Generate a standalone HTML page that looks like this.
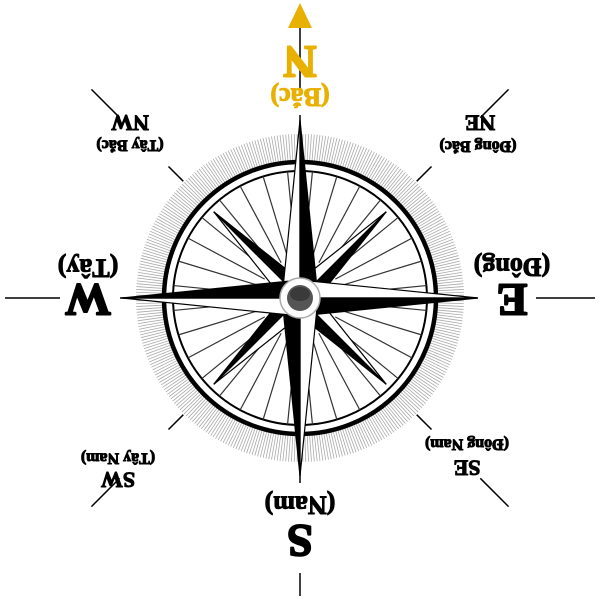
<!DOCTYPE html>
<html><head><meta charset="utf-8"><style>
html,body{margin:0;padding:0;background:#fff;}
svg{display:block}
text{font-family:"Liberation Serif",serif;font-weight:bold;}
</style></head><body>
<svg id="c" width="600" height="600" viewBox="0 0 600 600">
<g id="ticks"></g>
<circle cx="300" cy="298" r="136" fill="none" stroke="#000" stroke-width="4.5"/>
<circle cx="300" cy="298" r="127" fill="none" stroke="#000" stroke-width="2"/>
<g id="spokes"></g>
<g id="lines"></g>
<polygon points="300,3 288,28 312,28" fill="#e8b000"/>
<g id="star"></g>
<circle cx="300" cy="298" r="20" fill="#fff" stroke="#aaa" stroke-width="1.5"/>
<circle cx="300" cy="298" r="13" fill="#555"/>
<ellipse cx="300" cy="294" rx="10" ry="7" fill="#3a3a3a"/>
<g id="labels"></g>
</svg>
<script>
const NS='http://www.w3.org/2000/svg';
const cx=300, cy=298;
const cardinalAngles=[0,90,180,270];
const diagonalAngles=[45,135,225,315];
function pt(a,r){const t=(a-90)*Math.PI/180;return [cx+r*Math.cos(t),cy+r*Math.sin(t)];}
function mk(tag,attrs,parent){const e=document.createElementNS(NS,tag);for(const k in attrs)e.setAttribute(k,attrs[k]);parent.appendChild(e);return e;}
const ticks=document.getElementById('ticks');
for(let a=0;a<360;a+=1){const p1=pt(a,137),p2=pt(a,164);
 const l=mk('line',{x1:p1[0],y1:p1[1],x2:p2[0],y2:p2[1],stroke:'#aaa','stroke-width':0.8},ticks);
 
 }
const spokes=document.getElementById('spokes');
for(let i=0;i<32;i++){const a=i*11.25+5.625;const p1=pt(a,40),p2=pt(a,127);
 const l=mk('line',{x1:p1[0],y1:p1[1],x2:p2[0],y2:p2[1],stroke:'#333','stroke-width':1.2},spokes);
 
 }
const lines=document.getElementById('lines');
const segs=[[0,165,183],[0,210,270],[90,165,177],[90,236,295],[180,165,185],[180,275,298],[270,165,180],[270,240,295],
[45,165,186],[45,255,295],[135,165,186],[135,255,295],[225,165,186],[225,255,295],[315,165,186],[315,255,295]];
segs.forEach(s=>{const p1=pt(s[0],s[1]),p2=pt(s[0],s[2]);
 const l=mk('line',{x1:p1[0],y1:p1[1],x2:p2[0],y2:p2[1],stroke:'#000','stroke-width':1.5},lines);
 
 });
const star=document.getElementById('star');
function arm(a,len,w){const tip=pt(a,len),l=pt(a-90,w),r=pt(a+90,w);
 const p1=mk('polygon',{points:`${cx},${cy} ${tip} ${l}`,fill:'#fff',stroke:'#000','stroke-width':1.2},star);
 
 
 const p2=mk('polygon',{points:`${cx},${cy} ${tip} ${r}`,fill:'#000',stroke:'#000','stroke-width':1.2},star);
 
 }
diagonalAngles.forEach(a=>arm(a,122,14));
cardinalAngles.forEach(a=>arm(a,178,18));
const labels=document.getElementById('labels');
const lbl=[["N",300,62,46,'#e8b000'],["(Bắc)",300,97,26,'#e8b000'],
["E",512,300,46,'#000'],["(Đông)",512,267,26,'#000'],
["S",300,541,46,'#000'],["(Nam)",300,505,26,'#000'],
["W",88,300,46,'#000'],["(Tây)",88,268,26,'#000'],
["NW",130,123,22,'#000'],["(Tây Bắc)",130,145,16,'#000'],
["NE",480,123,22,'#000'],["(Đông Bắc)",478,146,16,'#000'],
["SW",118,480,22,'#000'],["(Tây Nam)",118,458,16,'#000'],
["SE",467,468,22,'#000'],["(Đông Nam)",467,444,16,'#000']];
lbl.forEach(d=>{const t=mk('text',{x:d[1],y:d[2],'font-size':d[3],fill:d[4],stroke:d[4],'stroke-width':d[3]>30?2:1,'stroke-linejoin':'round','text-anchor':'middle','dominant-baseline':'central',transform:`rotate(180 ${d[1]} ${d[2]})`},labels);
 t.textContent=d[0];
 
 });
</script>
</body></html>
